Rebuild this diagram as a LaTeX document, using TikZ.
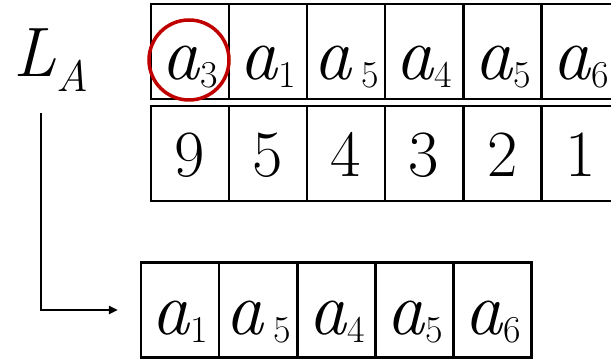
\documentclass[tikz,border=0pt]{standalone}
\usepackage{tikz}
\usetikzlibrary{arrows.meta, positioning}
\definecolor{circRed}{HTML}{C00000}
\newcommand\elem[1]{\textit{a}\raisebox{-8pt}{\fontsize{38}{40}\selectfont #1}}
\newcommand\elemgap[1]{\textit{a}\hspace{9pt}\raisebox{-8pt}{\fontsize{38}{40}\selectfont #1}}

\begin{document}
\begin{tikzpicture}[x=1pt, y=-1pt, every node/.style={font=\fontsize{76}{80}\selectfont},
    cell/.style={draw, line width=2.4pt, minimum width=78pt, minimum height=95pt, inner sep=0pt, text height=60pt, text depth=3pt},
    numcell/.style={cell, font=\fontsize{66}{70}\selectfont, text height=50pt, text depth=3pt},
    botcell/.style={cell, text height=56pt, text depth=6pt}]
    \useasboundingbox (0,0) rectangle (611,363);
    \node[anchor=base west,font=\fontsize{70}{74}\selectfont](LA)at(10,77){\textit{L}\raisebox{-15pt}{\fontsize{44}{46}\selectfont\textit{A}}};
    % elements
    \node[cell](t1)at(190,51.5){\elem{3}};
    \node[cell](t2)at(268,51.5){\elem{1}};
    \node[cell](t3)at(346,51.5){\elemgap{5}};
    \node[cell](t4)at(424,51.5){\elem{4}};
    \node[cell](t5)at(502.5,51.5){\elem{5}};
    \node[cell](t6)at(581,51.5){\elem{6}};
    % counts
    \node[numcell](n1)at(190,153.5){9};
    \node[numcell](n2)at(268,153.5){5};
    \node[numcell](n3)at(346,153.5){4};
    \node[numcell](n4)at(424,153.5){3};
    \node[numcell](n5)at(502.5,153.5){2};
    \node[numcell](n6)at(581,153.5){1};
    % result
    \node[botcell](b1)at(180,310){\elem{1}};
    \node[botcell](b2)at(258,310){\elemgap{5}};
    \node[botcell](b3)at(336.5,310){\elem{4}};
    \node[botcell](b4)at(415,310){\elem{5}};
    \node[botcell](b5)at(492.5,310){\elem{6}};
    \node[circle,draw=circRed,line width=3.5pt,minimum size=80pt,inner sep=0pt](ring)at(189,60){};
    \coordinate(down)at(41,113);
    \draw[line width=2.2pt,-{Triangle[length=9pt,width=8pt]},shorten >=22pt](down)|-(b1);
\end{tikzpicture}
\end{document}
